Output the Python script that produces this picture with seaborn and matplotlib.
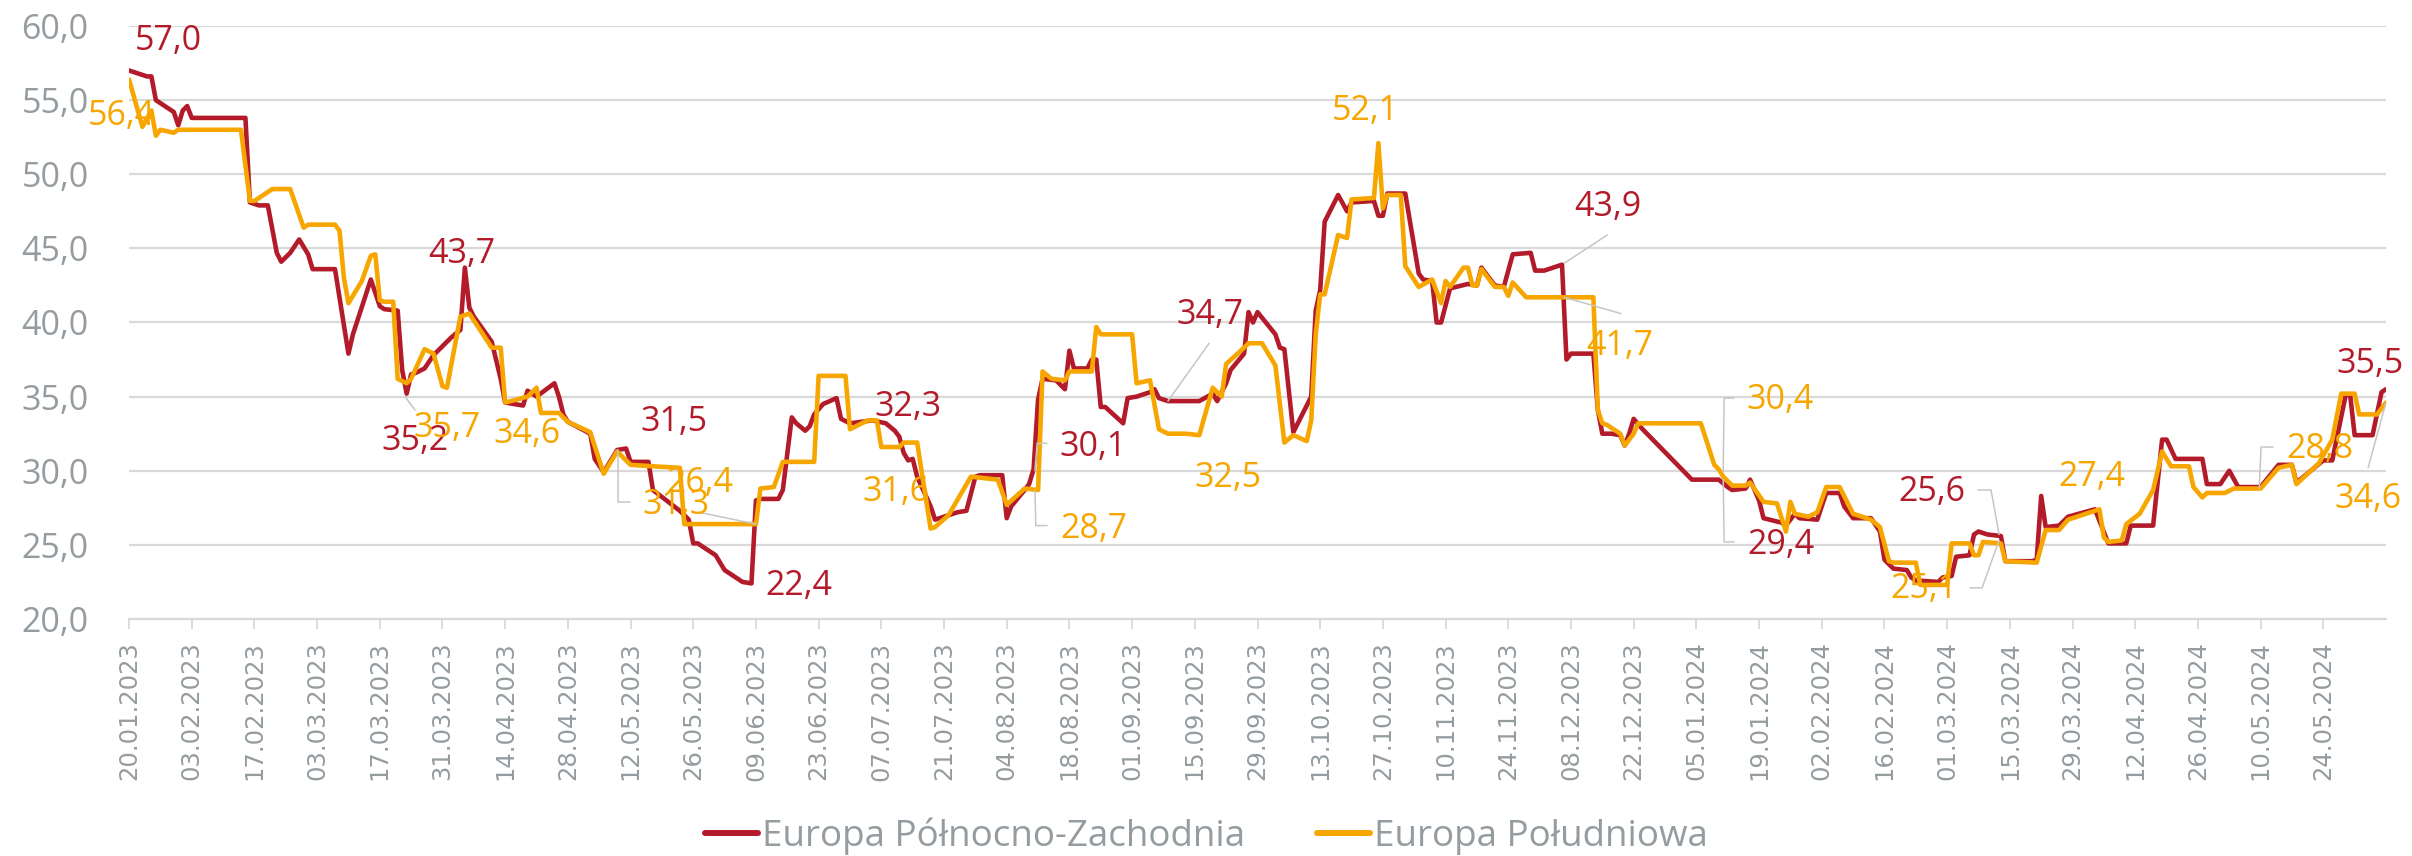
import pandas as pd
import matplotlib
matplotlib.use("Agg")
import matplotlib.pyplot as plt
import matplotlib.dates as mdates
from matplotlib.lines import Line2D
from matplotlib.ticker import FuncFormatter
import seaborn as sns

# ---------------------------------------------------------------- data
START = pd.Timestamp("2023-01-20")

# Europa Północno-Zachodnia: days since 20.01.2023 and price
nw_days = [0, 4, 5, 6, 10, 11, 12, 13, 14, 26, 27, 29, 31, 33, 34, 36, 38, 40, 41, 46,
           49, 50, 54, 56, 57, 60, 61, 62, 63, 64, 66, 68, 72, 74, 75, 76, 77, 81, 83, 84,
           88, 89, 91, 95, 96, 97, 98, 103, 104, 106, 109, 111, 112, 116, 117, 123, 125, 126, 127, 131,
           133, 137, 139, 140, 141, 145, 146, 148, 149, 151, 152, 153, 155, 158, 159, 161, 166, 169, 171, 172,
           173, 174, 175, 176, 179, 180, 182, 185, 187, 189, 190, 195, 196, 197, 200, 201, 202, 203, 204, 207,
           209, 210, 211, 214, 215, 216, 217, 218, 222, 223, 225, 228, 229, 230, 232, 239, 242, 243, 245, 246,
           249, 250, 251, 252, 256, 257, 258, 260, 264, 265, 266, 267, 270, 272, 273, 278, 279, 280, 281, 285,
           288, 289, 291, 292, 293, 295, 299, 301, 302, 305, 307, 309, 313, 314, 316, 320, 321, 322, 327, 328,
           329, 331, 333, 334, 335, 336, 338, 349, 355, 357, 358, 361, 362, 364, 365, 369, 370, 372, 373, 377,
           379, 382, 383, 385, 389, 391, 392, 394, 397, 398, 399, 404, 405, 407, 408, 411, 412, 413, 415, 418,
           419, 425, 426, 427, 428, 431, 433, 439, 442, 446, 447, 452, 454, 455, 457, 463, 464, 467, 469, 471,
           476, 480, 483, 484, 490, 492, 495, 496, 497, 501, 503, 504]
nw_values = [57.0, 56.6, 56.6, 55.0, 54.2, 53.3, 54.3, 54.6, 53.8, 53.8, 48.1, 47.9, 47.9, 44.7, 44.1, 44.7, 45.6, 44.6, 43.6, 43.6,
             37.9, 39.2, 42.9, 41.1, 40.9, 40.8, 36.8, 35.2, 36.5, 36.6, 36.9, 37.8, 39.0, 39.5, 43.7, 41.0, 40.4, 38.7, 36.2, 34.6,
             34.4, 35.4, 35.0, 35.9, 35.0, 33.8, 33.3, 32.5, 30.8, 29.9, 31.4, 31.5, 30.6, 30.6, 28.7, 27.3, 26.7, 25.1, 25.1, 24.3,
             23.3, 22.5, 22.4, 28.0, 28.1, 28.1, 28.7, 33.6, 33.2, 32.7, 33.0, 33.8, 34.5, 34.9, 33.5, 33.2, 33.4, 33.2, 32.7, 32.3,
             31.2, 30.7, 30.8, 29.6, 27.6, 26.7, 26.9, 27.2, 27.3, 29.6, 29.7, 29.7, 26.8, 27.6, 28.7, 29.1, 30.1, 34.8, 36.2, 36.1,
             35.5, 38.1, 36.9, 36.9, 37.5, 37.5, 34.3, 34.3, 33.2, 34.9, 35.0, 35.3, 35.5, 34.9, 34.7, 34.7, 35.2, 34.7, 35.9, 36.8,
             37.9, 40.7, 40.0, 40.7, 39.2, 38.3, 38.2, 32.6, 35.0, 40.8, 42.2, 46.8, 48.6, 47.5, 48.1, 48.2, 47.2, 47.2, 48.7, 48.7,
             43.3, 42.9, 42.8, 40.0, 40.0, 42.3, 42.6, 42.5, 43.7, 42.5, 42.4, 44.6, 44.7, 43.5, 43.5, 43.9, 37.5, 37.9, 37.9, 34.1,
             32.5, 32.5, 32.4, 31.7, 32.5, 33.5, 32.8, 29.4, 29.4, 28.9, 28.7, 28.8, 29.4, 28.0, 26.8, 26.5, 26.3, 27.1, 26.8, 26.7,
             28.5, 28.5, 27.6, 26.8, 26.8, 25.9, 24.0, 23.4, 23.3, 22.8, 22.6, 22.5, 22.8, 22.9, 24.2, 24.3, 25.7, 25.9, 25.7, 25.6,
             23.9, 23.9, 24.0, 28.3, 26.2, 26.3, 26.9, 27.4, 25.1, 25.1, 26.3, 26.3, 32.1, 32.1, 30.8, 30.8, 29.1, 29.1, 30.0, 28.9,
             28.9, 30.4, 30.4, 29.2, 30.7, 30.7, 35.1, 35.1, 32.4, 32.4, 35.3, 35.5]

# Europa Południowa: days since 20.01.2023 and price
south_days = [0, 3, 5, 6, 7, 10, 11, 25, 27, 28, 32, 36, 39, 40, 46, 47, 48, 49, 52, 54,
              55, 56, 57, 59, 60, 62, 63, 66, 68, 70, 71, 74, 76, 81, 83, 84, 89, 91, 92, 96,
              98, 103, 106, 109, 112, 117, 123, 124, 140, 141, 144, 146, 153, 154, 160, 161, 165, 167, 168, 172,
              173, 176, 179, 180, 183, 188, 194, 196, 200, 203, 204, 206, 209, 210, 215, 216, 217, 224, 225, 228,
              230, 232, 236, 239, 242, 244, 245, 249, 250, 253, 256, 258, 260, 263, 264, 265, 266, 267, 270, 272,
              273, 278, 279, 280, 281, 284, 285, 288, 291, 293, 294, 295, 298, 299, 300, 301, 302, 305, 307, 308,
              309, 312, 327, 328, 329, 330, 333, 334, 336, 337, 351, 354, 355, 356, 358, 361, 362, 365, 368, 370,
              371, 372, 375, 377, 379, 382, 384, 385, 389, 391, 393, 394, 399, 400, 406, 407, 411, 412, 413, 414,
              418, 419, 426, 428, 431, 433, 440, 441, 442, 445, 446, 449, 452, 454, 456, 460, 461, 463, 464, 468,
              470, 476, 480, 483, 484, 489, 492, 494, 497, 498, 502, 504]
south_values = [56.4, 53.2, 54.3, 52.6, 53.0, 52.8, 53.0, 53.0, 48.2, 48.2, 49.0, 49.0, 46.4, 46.6, 46.6, 46.2, 43.0, 41.3, 42.8, 44.5,
                44.6, 41.5, 41.4, 41.4, 36.2, 35.9, 36.2, 38.2, 37.9, 35.7, 35.6, 40.4, 40.6, 38.3, 38.3, 34.6, 35.0, 35.6, 33.9, 33.9,
                33.3, 32.6, 29.8, 31.3, 30.4, 30.3, 30.2, 26.4, 26.4, 28.8, 28.9, 30.6, 30.6, 36.4, 36.4, 32.8, 33.4, 33.4, 31.6, 31.6,
                31.9, 31.9, 26.1, 26.2, 27.0, 29.6, 29.4, 27.7, 28.8, 28.7, 36.7, 36.2, 36.1, 36.7, 36.7, 39.7, 39.2, 39.2, 35.9, 36.1,
                32.8, 32.5, 32.5, 32.4, 35.6, 35.0, 37.2, 38.3, 38.6, 38.6, 37.1, 31.9, 32.4, 32.0, 33.4, 39.2, 41.9, 41.9, 45.9, 45.7,
                48.3, 48.4, 52.1, 47.7, 48.6, 48.6, 43.8, 42.4, 42.9, 41.3, 42.8, 42.4, 43.7, 43.7, 42.5, 42.5, 43.6, 42.4, 42.4, 41.8,
                42.7, 41.7, 41.7, 34.1, 33.2, 33.1, 32.5, 31.7, 32.5, 33.2, 33.2, 30.4, 30.1, 29.6, 29.0, 29.0, 29.2, 27.9, 27.8, 25.9,
                27.9, 27.1, 26.9, 27.2, 28.9, 28.9, 27.7, 27.1, 26.7, 26.2, 23.9, 23.8, 23.8, 22.3, 22.3, 25.1, 25.1, 24.3, 24.3, 25.2,
                25.1, 23.9, 23.8, 26.0, 26.0, 26.7, 27.4, 25.5, 25.2, 25.3, 26.4, 27.1, 28.7, 31.3, 30.3, 30.3, 28.9, 28.2, 28.5, 28.5,
                28.8, 28.8, 30.2, 30.4, 29.1, 30.5, 32.1, 35.2, 35.2, 33.8, 33.8, 34.6]

series_names = ["Europa Północno-Zachodnia", "Europa Południowa"]
series_colors = ["#B31B2B", "#F7A600"]

# Labelled points: (day of the point, text day, text value, leader polyline in (day, value))
nw_labels = [
    (0, 8.7, 59.0, None),
    (62, 63.9, 32.0, [(61.6, 35.0), (63.9, 34.1)]),
    (75, 74.4, 44.6, None),
    (111, 121.7, 33.3, None),
    (139, 149.6, 22.2, None),
    (172, 174.0, 34.3, None),
    (202, 215.3, 31.6, [(202.3, 30.0), (202.8, 31.85), (205.0, 31.85)]),
    (232, 241.4, 40.5, [(241.2, 38.6), (232.0, 34.7)]),
    (320, 330.3, 47.8, [(330.1, 45.9), (320.5, 44.0)]),
    (355, 368.9, 25.0, [(358.4, 25.2), (356.2, 25.2), (356.0, 29.4)]),
    (418, 402.6, 28.6, [(412.9, 28.7), (415.8, 28.7), (417.6, 25.7)]),
    (504, 500.4, 37.2, None),
]
south_labels = [
    (0, -1.6, 53.9, None),
    (70, 71.0, 32.9, None),
    (84, 88.9, 32.5, None),
    (109, 122.2, 27.7, [(109.2, 31.4), (109.2, 27.9), (111.9, 27.9)]),
    (140, 127.5, 29.2, [(127.3, 27.2), (140.0, 26.4)]),
    (168, 171.3, 28.6, None),
    (203, 215.5, 26.1, [(202.3, 28.7), (202.5, 26.3), (205.0, 26.3)]),
    (236, 245.4, 29.5, None),
    (279, 276.0, 54.3, None),
    (327, 333.0, 38.4, [(333.2, 40.6), (320.5, 41.7)]),
    (354, 368.7, 34.8, [(358.4, 34.9), (356.2, 34.9), (356.0, 30.0)]),
    (418, 400.8, 22.0, [(411.1, 22.1), (413.8, 22.1), (417.6, 25.3)]),
    (440, 438.4, 29.6, None),
    (476, 489.3, 31.5, [(478.8, 31.6), (476.1, 31.6), (475.7, 28.8)]),
    (504, 500.0, 28.1, [(500.0, 30.2), (504.0, 34.6)]),
]

tick_dates = pd.date_range("2023-01-20", "2024-05-24", freq="14D")

# ---------------------------------------------------------------- frame
frames = []
for name, days, vals in [(series_names[0], nw_days, nw_values),
                         (series_names[1], south_days, south_values)]:
    frames.append(pd.DataFrame({
        "data": START + pd.to_timedelta(days, unit="D"),
        "cena": vals,
        "region": name,
    }))
df = pd.concat(frames, ignore_index=True)

# ---------------------------------------------------------------- style
sns.set_theme(style="white")
plt.rcParams["font.family"] = ["Open Sans", "DejaVu Sans"]
TEXT_GREY = "#959ca0"
GRID_GREY = "#d9d9d9"
FS = 24.5

W, H = 2412, 856
fig = plt.figure(figsize=(W / 100, H / 100), dpi=100)
ax = fig.add_axes([129 / W, 1 - 619 / H, (2386 - 129) / W, (619 - 26) / H])

sns.lineplot(data=df, x="data", y="cena", hue="region", hue_order=series_names,
             palette=series_colors, estimator=None, linewidth=3.3, ax=ax, legend=False)
for ln in ax.lines:
    ln.set_solid_joinstyle("round")
    ln.set_solid_capstyle("round")

ax.set_xlim(START, START + pd.Timedelta(days=504))
ax.set_ylim(20, 60)
ax.set_xlabel("")
ax.set_ylabel("")

ax.set_yticks(range(20, 61, 5))
ax.yaxis.set_major_formatter(FuncFormatter(lambda v, p: f"{v:.1f}".replace(".", ",")))
ax.tick_params(axis="y", length=0, pad=29, labelsize=FS, labelcolor=TEXT_GREY)

ax.set_xticks(tick_dates)
ax.set_xticklabels([d.strftime("%d.%m.%Y") for d in tick_dates], rotation=90,
                   fontsize=17.5, color=TEXT_GREY)
for lbl in ax.get_xticklabels():
    lbl.set_fontfamily("DejaVu Sans")
ax.tick_params(axis="x", length=7.2, width=1.3, color=GRID_GREY, pad=9, bottom=True)

ax.yaxis.grid(True, color=GRID_GREY, linewidth=1.6)
ax.xaxis.grid(False)
ax.set_axisbelow(True)
for side in ["top", "right", "left"]:
    ax.spines[side].set_visible(False)
ax.spines["bottom"].set_color(GRID_GREY)
ax.spines["bottom"].set_linewidth(1.6)


def xnum(day):
    return mdates.date2num(START + pd.Timedelta(days=day))


def annotate(days, vals, labels, color):
    lookup = dict(zip(days, vals))
    for day, tx, ty, leader in labels:
        value = lookup[day]
        ax.text(xnum(tx), ty, f"{value:.1f}".replace(".", ","), color=color,
                fontsize=FS, ha="center", va="center", clip_on=False, zorder=5)
        if leader:
            ax.plot([xnum(d) for d, _ in leader], [v for _, v in leader],
                    color="#c6c6c6", linewidth=1.1, zorder=4, clip_on=False)


annotate(nw_days, nw_values, nw_labels, series_colors[0])
annotate(south_days, south_values, south_labels, series_colors[1])

handles = [Line2D([0], [0], color=c, linewidth=4.3) for c in series_colors]
fig.legend(handles, series_names, loc="center", bbox_to_anchor=(0.5, 1 - 836 / H),
           ncol=2, frameon=False, fontsize=26.5, labelcolor=TEXT_GREY,
           handlelength=1.45, handletextpad=0.1, columnspacing=1.95)

fig.savefig("out.png", dpi=100)
